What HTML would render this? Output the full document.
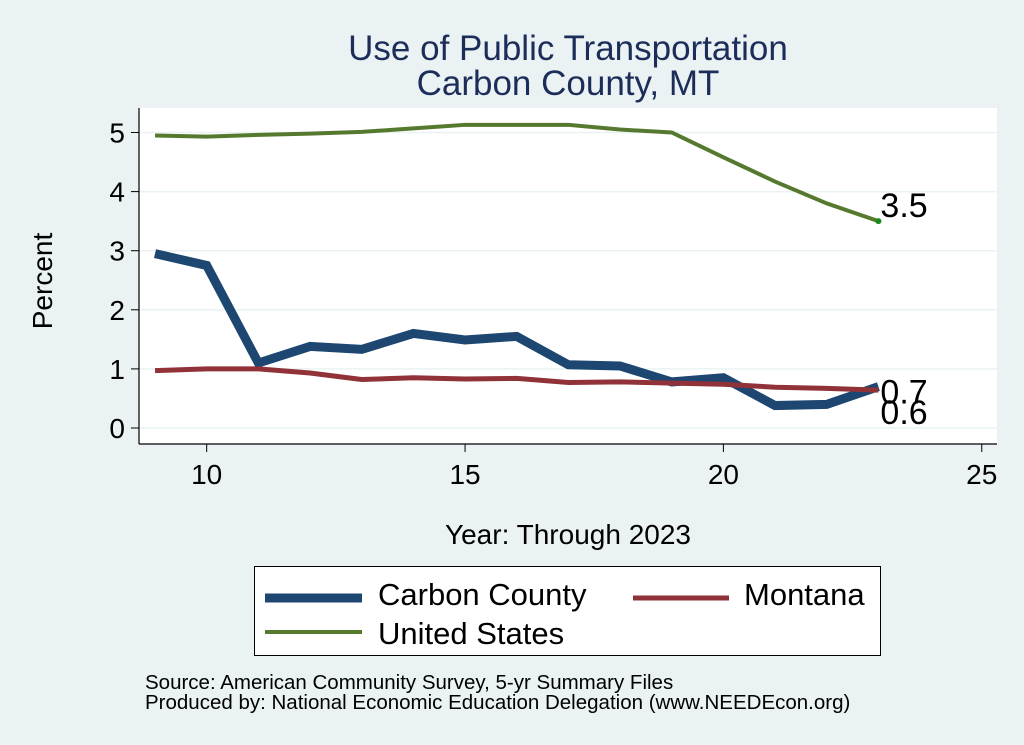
<!DOCTYPE html>
<html><head><meta charset="utf-8"><style>
body{margin:0;background:#eaf2f3;}
svg{display:block;font-family:"Liberation Sans",Arial,sans-serif;}
</style></head><body>
<svg id="chart" width="1024" height="745" viewBox="0 0 1024 745">
<rect x="0" y="0" width="1024" height="745" fill="#eaf2f3"/>
<text x="568" y="60" font-size="35" fill="#1c2d5a" text-anchor="middle">Use of Public Transportation</text>
<text x="568" y="95" font-size="35" fill="#1c2d5a" text-anchor="middle">Carbon County, MT</text>
<rect x="139" y="108" width="858" height="336" fill="#ffffff"/>
<g id="grid"></g>
<g id="axes"></g>
<g id="series"></g>
<text x="52" y="281" font-size="28" fill="#000" text-anchor="middle" transform="rotate(-90 52 281)">Percent</text>
<text x="568" y="544" font-size="28" fill="#000" text-anchor="middle">Year: Through 2023</text>
<g>
<rect x="254.5" y="566.5" width="626" height="89" fill="#fff" stroke="#000" stroke-width="1"/>
<line x1="265" y1="598" x2="362" y2="598" stroke="#1d4770" stroke-width="9"/>
<text x="378" y="605" font-size="31">Carbon County</text>
<line x1="633" y1="598" x2="729" y2="598" stroke="#903238" stroke-width="5"/>
<text x="744" y="605" font-size="31">Montana</text>
<line x1="265" y1="632" x2="362" y2="632" stroke="#557a2f" stroke-width="4"/>
<text x="378" y="644" font-size="31">United States</text>
</g>
<text x="145" y="689" font-size="20.5">Source: American Community Survey, 5-yr Summary Files</text>
<text x="145" y="709" font-size="20.5">Produced by: National Economic Education Delegation (www.NEEDEcon.org)</text>
</svg>
<script>
const years=[9,10,11,12,13,14,15,16,17,18,19,20,21,22,23];
const carbon=[2.95,2.75,1.1,1.38,1.33,1.6,1.49,1.55,1.07,1.05,0.78,0.85,0.38,0.4,0.7];
const montana=[0.97,1.0,1.0,0.93,0.82,0.85,0.83,0.84,0.77,0.78,0.76,0.74,0.69,0.67,0.64];
const us=[4.95,4.93,4.96,4.98,5.01,5.07,5.13,5.13,5.13,5.05,5.0,4.58,4.17,3.8,3.5];
const yTicks=[0,1,2,3,4,5];
const xTicks=[10,15,20,25];
const NS="http://www.w3.org/2000/svg";
const X=v=>206.7+(v-10)*51.67;
const Y=v=>428-v*59.1;
function mk(tag,attrs,parent){const e=document.createElementNS(NS,tag);for(const k in attrs)e.setAttribute(k,attrs[k]);document.getElementById(parent).appendChild(e);return e;}
yTicks.forEach(t=>{
 const g=mk('line',{x1:139,x2:997,y1:Y(t),y2:Y(t),stroke:'#eaf2f3','stroke-width':1.5},'grid');
 
 
 const tk=mk('line',{x1:131,x2:139,y1:Y(t),y2:Y(t),stroke:'#000','stroke-width':1},'axes');
 
 
 const tx=mk('text',{x:125,y:Y(t)+10,'font-size':28,'text-anchor':'end'},'axes');
 tx.textContent=t;
 
 
});
xTicks.forEach(t=>{
 const tk=mk('line',{x1:X(t),x2:X(t),y1:444,y2:452,stroke:'#000','stroke-width':1},'axes');
 
 
 const tx=mk('text',{x:X(t),y:484,'font-size':28,'text-anchor':'middle'},'axes');
 tx.textContent=t;
 
 
});
const ya=mk('line',{x1:139,x2:139,y1:108,y2:444,stroke:'#000','stroke-width':1.2},'axes');


const xa=mk('line',{x1:139,x2:997,y1:444,y2:444,stroke:'#000','stroke-width':1.2},'axes');


function line(vals,color,w,name){
 const p=mk('polyline',{points:years.map((y,i)=>X(y)+','+Y(vals[i])).join(' '),fill:'none',stroke:color,'stroke-width':w,'stroke-linejoin':'miter'},'series');
 
 
}
line(carbon,'#1d4770',9,'line-carbon-county');
line(us,'#557a2f',4,'line-united-states');
line(montana,'#903238',5,'line-montana');
const n=years.length-1;
const dot=mk('circle',{cx:X(years[n]),cy:Y(us[n]),r:3,fill:'#1a8a1a'},'series');


function lab(v,dy,name){
 const t=mk('text',{x:X(years[n])+2,y:Y(v)+dy,'font-size':34},'series');
 t.textContent=v.toFixed(1);
 
 
}
lab(us[n],-4,'label-us-end');
lab(carbon[n],17,'label-carbon-end');
lab(montana[n],34,'label-montana-end');
</script>
</body></html>
